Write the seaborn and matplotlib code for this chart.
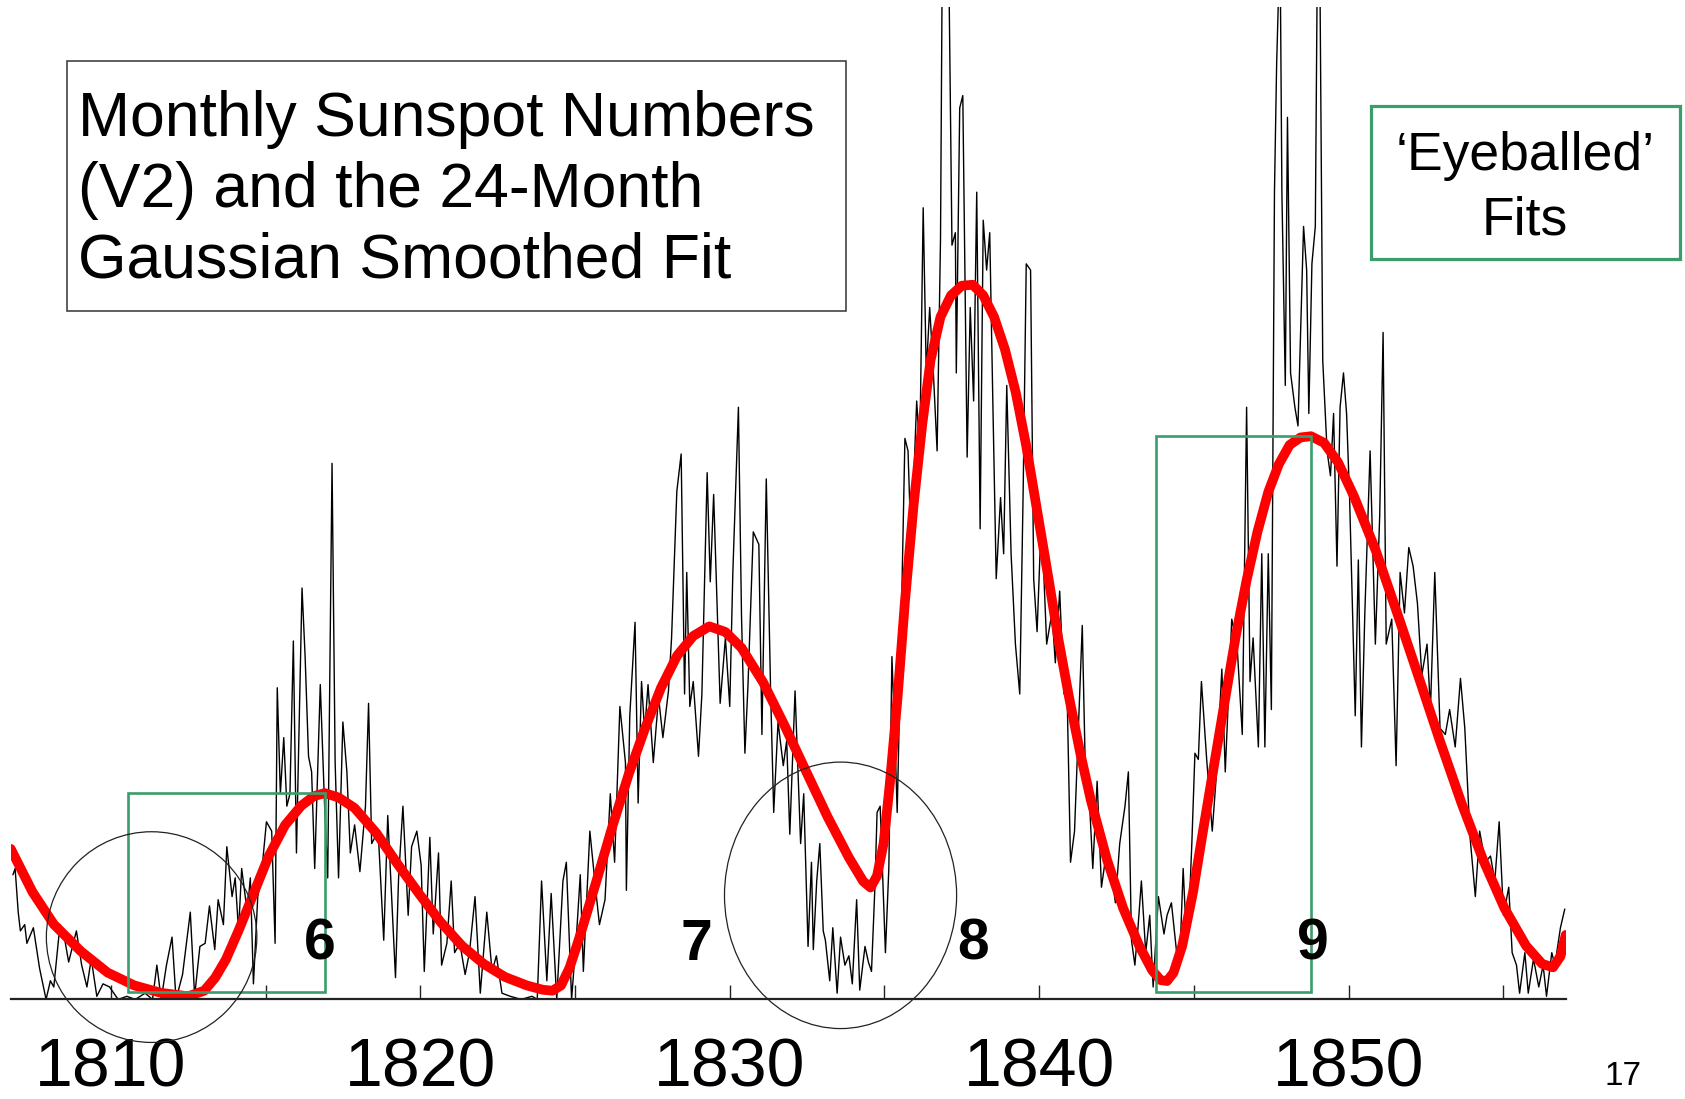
import matplotlib
matplotlib.use("Agg")
import matplotlib.pyplot as plt
from matplotlib.patches import Rectangle, Ellipse
from matplotlib.ticker import MultipleLocator
import seaborn as sns

# monthly sunspot numbers (V2)
monthly_year = [
    1806.84, 1806.91, 1807.01, 1807.08, 1807.22, 1807.29, 1807.50, 1807.70, 1807.91, 1808.05,
    1808.16, 1808.36, 1808.50, 1808.64, 1808.89, 1809.06, 1809.23, 1809.37, 1809.55, 1809.75,
    1809.96, 1810.24, 1810.52, 1810.79, 1811.11, 1811.35, 1811.49, 1811.63, 1811.80, 1811.98,
    1812.11, 1812.32, 1812.57, 1812.71, 1812.88, 1813.05, 1813.19, 1813.36, 1813.47, 1813.64,
    1813.75, 1813.92, 1814.02, 1814.13, 1814.23, 1814.41, 1814.51, 1814.61, 1814.75, 1814.86,
    1815.03, 1815.20, 1815.31, 1815.38, 1815.48, 1815.59, 1815.69, 1815.79, 1815.90, 1816.00,
    1816.18, 1816.28, 1816.39, 1816.49, 1816.59, 1816.77, 1816.91, 1817.01, 1817.15, 1817.25,
    1817.36, 1817.50, 1817.63, 1817.74, 1817.88, 1818.05, 1818.23, 1818.33, 1818.43, 1818.64,
    1818.82, 1818.95, 1819.20, 1819.30, 1819.44, 1819.61, 1819.72, 1819.89, 1820.03, 1820.13,
    1820.31, 1820.42, 1820.59, 1820.69, 1820.86, 1821.00, 1821.11, 1821.28, 1821.45, 1821.59,
    1821.77, 1821.94, 1822.15, 1822.32, 1822.46, 1822.64, 1822.91, 1823.26, 1823.61, 1823.78,
    1823.92, 1824.09, 1824.23, 1824.41, 1824.61, 1824.72, 1824.89, 1825.07, 1825.17, 1825.27,
    1825.48, 1825.66, 1825.79, 1825.97, 1826.14, 1826.28, 1826.45, 1826.63, 1826.66, 1826.77,
    1826.94, 1827.04, 1827.15, 1827.25, 1827.36, 1827.53, 1827.70, 1827.84, 1828.02, 1828.12,
    1828.29, 1828.43, 1828.54, 1828.61, 1828.71, 1828.82, 1828.99, 1829.10, 1829.27, 1829.37,
    1829.48, 1829.58, 1829.69, 1829.86, 1830.00, 1830.10, 1830.28, 1830.38, 1830.49, 1830.59,
    1830.76, 1830.94, 1831.04, 1831.18, 1831.32, 1831.42, 1831.56, 1831.73, 1831.84, 1831.94,
    1832.11, 1832.29, 1832.39, 1832.53, 1832.64, 1832.70, 1832.81, 1832.91, 1833.02, 1833.09,
    1833.23, 1833.33, 1833.47, 1833.58, 1833.72, 1833.85, 1833.96, 1834.10, 1834.20, 1834.37,
    1834.48, 1834.58, 1834.69, 1834.76, 1834.86, 1835.03, 1835.14, 1835.24, 1835.34, 1835.41,
    1835.52, 1835.66, 1835.76, 1835.86, 1836.04, 1836.14, 1836.25, 1836.35, 1836.46, 1836.56,
    1836.70, 1836.81, 1836.87, 1837.01, 1837.08, 1837.18, 1837.29, 1837.32, 1837.43, 1837.53,
    1837.67, 1837.77, 1837.88, 1837.98, 1838.09, 1838.19, 1838.30, 1838.40, 1838.50, 1838.61,
    1838.75, 1838.85, 1838.95, 1839.09, 1839.23, 1839.37, 1839.48, 1839.58, 1839.72, 1839.82,
    1839.93, 1840.07, 1840.24, 1840.41, 1840.52, 1840.66, 1840.80, 1840.90, 1841.01, 1841.14,
    1841.39, 1841.49, 1841.59, 1841.73, 1841.87, 1842.01, 1842.18, 1842.32, 1842.46, 1842.60,
    1842.77, 1842.88, 1842.98, 1843.09, 1843.19, 1843.30, 1843.44, 1843.57, 1843.68, 1843.85,
    1844.03, 1844.13, 1844.27, 1844.44, 1844.55, 1844.65, 1844.72, 1844.82, 1844.93, 1845.03,
    1845.14, 1845.24, 1845.41, 1845.59, 1845.73, 1845.90, 1846.01, 1846.22, 1846.39, 1846.56,
    1846.70, 1846.81, 1846.91, 1847.08, 1847.19, 1847.29, 1847.40, 1847.50, 1847.60, 1847.67,
    1847.78, 1847.84, 1847.95, 1848.02, 1848.12, 1848.26, 1848.36, 1848.54, 1848.64, 1848.71,
    1848.81, 1848.92, 1848.99, 1849.06, 1849.16, 1849.30, 1849.41, 1849.51, 1849.62, 1849.72,
    1849.83, 1849.93, 1850.03, 1850.21, 1850.31, 1850.41, 1850.52, 1850.69, 1850.86, 1851.00,
    1851.11, 1851.21, 1851.39, 1851.53, 1851.66, 1851.80, 1851.94, 1852.08, 1852.22, 1852.36,
    1852.53, 1852.64, 1852.78, 1852.95, 1853.12, 1853.26, 1853.44, 1853.61, 1853.75, 1853.92,
    1854.09, 1854.23, 1854.41, 1854.58, 1854.72, 1854.86, 1855.00, 1855.17, 1855.28, 1855.42,
    1855.52, 1855.69, 1855.80, 1855.97, 1856.14, 1856.28, 1856.39, 1856.56, 1856.66, 1856.84,
    1856.98,
]
monthly_ssn = [
    40, 42, 28, 22, 24, 18, 23, 10, 0, 6,
    4, 24, 20, 12, 22, 11, 4, 13, 1, 5,
    4, 0, 1, 0, 2, 0, 11, 0, 11, 20,
    0, 8, 28, 1, 17, 18, 30, 16, 32, 24,
    49, 33, 39, 22, 42, 28, 39, 5, 33, 39,
    57, 54, 18, 100, 66, 84, 62, 66, 115, 47,
    132, 110, 78, 73, 42, 101, 62, 39, 172, 76,
    39, 89, 73, 47, 56, 41, 62, 95, 50, 54,
    19, 59, 7, 39, 62, 27, 49, 54, 43, 9,
    52, 21, 47, 11, 18, 38, 15, 18, 8, 15,
    33, 2, 28, 9, 14, 2, 1, 0, 1, 0,
    38, 6, 34, 0, 38, 44, 0, 24, 40, 9,
    54, 36, 24, 32, 66, 44, 94, 76, 35, 91,
    121, 63, 102, 86, 101, 76, 97, 84, 99, 116,
    163, 175, 98, 137, 94, 102, 78, 98, 169, 134,
    162, 130, 95, 116, 94, 137, 190, 123, 79, 101,
    150, 146, 85, 167, 99, 60, 89, 75, 83, 53,
    99, 50, 66, 17, 44, 16, 38, 50, 22, 19,
    6, 23, 2, 20, 11, 14, 5, 32, 3, 17,
    12, 9, 36, 60, 62, 15, 42, 110, 83, 60,
    110, 180, 176, 145, 192, 176, 254, 201, 222, 205,
    176, 244, 340, 340, 330, 242, 246, 201, 286, 290,
    174, 222, 192, 259, 151, 250, 234, 246, 192, 135,
    161, 143, 197, 143, 114, 98, 163, 236, 234, 135,
    118, 155, 114, 124, 108, 131, 98, 98, 44, 54,
    120, 73, 70, 42, 70, 36, 48, 42, 31, 50,
    62, 73, 19, 11, 23, 38, 15, 27, 4, 33,
    21, 27, 31, 15, 15, 42, 27, 23, 50, 79,
    77, 102, 77, 54, 73, 106, 73, 122, 114, 85,
    190, 102, 116, 81, 143, 81, 143, 93, 259, 300,
    340, 259, 197, 283, 201, 190, 184, 248, 234, 188,
    236, 248, 340, 340, 205, 176, 168, 188, 139, 190,
    201, 188, 160, 91, 141, 81, 124, 176, 114, 155,
    214, 114, 122, 75, 137, 124, 145, 139, 127, 104,
    114, 93, 137, 87, 85, 93, 81, 103, 87, 52,
    33, 54, 44, 46, 38, 57, 27, 36, 15, 11,
    2, 15, 2, 13, 4, 11, 1, 15, 11, 23,
    29,
]

# 24-month Gaussian smoothed fit (red)
fit_year = [
    1806.77, 1807.47, 1808.16, 1809.03, 1809.90, 1810.76, 1811.63, 1812.50, 1813.02, 1813.37,
    1813.72, 1814.13, 1814.58, 1815.10, 1815.63, 1816.15, 1816.56, 1816.91, 1817.36, 1817.88,
    1818.58, 1819.27, 1819.97, 1820.66, 1821.35, 1822.05, 1822.74, 1823.44, 1823.96, 1824.27,
    1824.55, 1824.83, 1825.17, 1825.69, 1826.22, 1826.74, 1827.26, 1827.78, 1828.30, 1828.82,
    1829.34, 1829.86, 1830.38, 1831.08, 1831.77, 1832.47, 1833.16, 1833.85, 1834.31, 1834.55,
    1834.76, 1834.97, 1835.17, 1835.42, 1835.66, 1835.94, 1836.22, 1836.49, 1836.81, 1837.15,
    1837.50, 1837.85, 1838.19, 1838.54, 1838.89, 1839.24, 1839.58, 1839.93, 1840.28, 1840.62,
    1840.97, 1841.32, 1841.67, 1842.19, 1842.71, 1843.23, 1843.65, 1843.92, 1844.13, 1844.34,
    1844.62, 1844.97, 1845.31, 1845.66, 1846.01, 1846.35, 1846.70, 1847.05, 1847.40, 1847.74,
    1848.09, 1848.44, 1848.78, 1849.20, 1849.65, 1850.17, 1850.87, 1851.56, 1852.26, 1852.95,
    1853.65, 1854.34, 1855.03, 1855.73, 1856.25, 1856.60, 1856.84, 1857.01,
]
fit_ssn = [
    48.3, 34.5, 24.1, 15.5, 8.6, 4.5, 2.1, 1.0, 2.8, 6.9,
    12.8, 22.1, 33.1, 45.9, 55.9, 62.1, 65.2, 66.2, 64.8, 61.4,
    53.4, 43.4, 33.8, 24.8, 17.2, 11.4, 7.2, 4.5, 3.1, 2.8,
    4.5, 10.3, 20.7, 37.9, 55.9, 72.4, 86.9, 100.0, 110.3, 116.6,
    119.7, 117.9, 112.8, 101.7, 87.9, 73.1, 58.6, 45.5, 37.9, 35.9,
    39.7, 50.0, 69.0, 96.6, 127.6, 158.6, 184.5, 205.2, 219.0, 225.9,
    229.0, 229.3, 225.9, 219.0, 208.6, 194.8, 177.6, 156.9, 136.2, 115.5,
    96.6, 79.3, 63.8, 44.8, 29.3, 17.2, 9.3, 6.2, 5.9, 8.6,
    17.2, 34.5, 55.2, 75.9, 96.6, 116.6, 134.5, 150.0, 162.8, 171.7,
    177.9, 180.3, 180.7, 178.6, 172.4, 161.4, 144.1, 124.1, 103.4, 82.8,
    62.8, 44.8, 29.3, 17.2, 11.4, 10.3, 13.8, 20.7,
]

tick_years = [1810, 1820, 1830, 1840, 1850]

cycle_labels = ['6', '7', '8', '9']
cycle_label_year = [1816.74, 1828.93, 1837.85, 1848.85]

box_start = [1810.56, 1843.78]
box_end = [1816.91, 1848.78]
box_low = [2.4, 2.4]
box_high = [66.2, 180.7]

# circled minima
circle_year = [1811.32, 1833.58]
circle_ssn = [20.0, 33.4]
circle_w = [6.8, 7.5]
circle_h = [67.6, 85.5]

green = '#3A9D6B'

sns.set_style("white")
plt.rcParams['font.family'] = ['Liberation Sans', 'DejaVu Sans']
plt.rcParams['text.color'] = 'black'
plt.rcParams['xtick.color'] = 'black'
plt.rcParams['xtick.labelcolor'] = 'black'

fig = plt.figure(figsize=(16.85, 10.99), dpi=100)
ax = fig.add_axes([0.0064, 0.0906, 0.9228, 0.9030])

sns.lineplot(x=monthly_year, y=monthly_ssn, ax=ax, color='black', lw=1.0,
             estimator=None, sort=False)
sns.lineplot(x=fit_year, y=fit_ssn, ax=ax, color='#FF0000', lw=7.0,
             estimator=None, sort=False, solid_joinstyle='round', solid_capstyle='round')

for x0, x1, lo, hi in zip(box_start, box_end, box_low, box_high):
    ax.add_patch(Rectangle((x0, lo), x1 - x0, hi - lo, fill=False,
                           edgecolor=green, lw=1.9, zorder=4))

for cx, cy, w, h in zip(circle_year, circle_ssn, circle_w, circle_h):
    ax.add_patch(Ellipse((cx, cy), w, h, fill=False, edgecolor='#222222',
                         lw=0.9, clip_on=False, zorder=4))

for lab, yr in zip(cycle_labels, cycle_label_year):
    ax.text(yr, 12.8, lab, ha='center', va='baseline', fontsize=41,
            fontweight='bold', color='black', zorder=5)

ax.set_xlim(1806.77, 1857.01)
ax.set_ylim(0, 318.4)
for s in ['left', 'right', 'top']:
    ax.spines[s].set_visible(False)
ax.spines['bottom'].set_color('#222222')
ax.spines['bottom'].set_linewidth(1.6)
ax.set_yticks([])
ax.set_xticks(tick_years)
ax.set_xticklabels([str(t) for t in tick_years])
ax.xaxis.set_minor_locator(MultipleLocator(5))
ax.tick_params(axis='x', which='both', direction='in', length=10, width=1.0,
               color='#222222', bottom=True)
ax.tick_params(axis='x', which='major', labelsize=49, pad=27, labelcolor='black')
ax.set_xlabel('')
ax.set_ylabel('')

# title box
fig.add_artist(Rectangle((0.0395, 0.7174), 0.4624, 0.2268, transform=fig.transFigure,
                         fill=False, edgecolor='#333333', lw=1.1))
title_lines = ['Monthly Sunspot Numbers', '(V2) and the 24-Month', 'Gaussian Smoothed Fit']
for line, yb in zip(title_lines, [0.8758, 0.8113, 0.7478]):
    fig.text(0.0465, yb, line, fontsize=45, va='baseline', ha='left', color='black')

fig.add_artist(Rectangle((0.8138, 0.7643), 0.1830, 0.1389, transform=fig.transFigure,
                         fill=False, edgecolor=green, lw=2.3))
fig.text(0.905, 0.8453, '\u2018Eyeballed\u2019', fontsize=38.5, ha='center', va='baseline',
         color='black')
fig.text(0.905, 0.7870, 'Fits', fontsize=38.5, ha='center', va='baseline', color='black')

# slide page number
fig.text(0.952, 0.006, '17', fontsize=24, ha='left', va='bottom', color='black')

fig.savefig('out.png', dpi=100)
